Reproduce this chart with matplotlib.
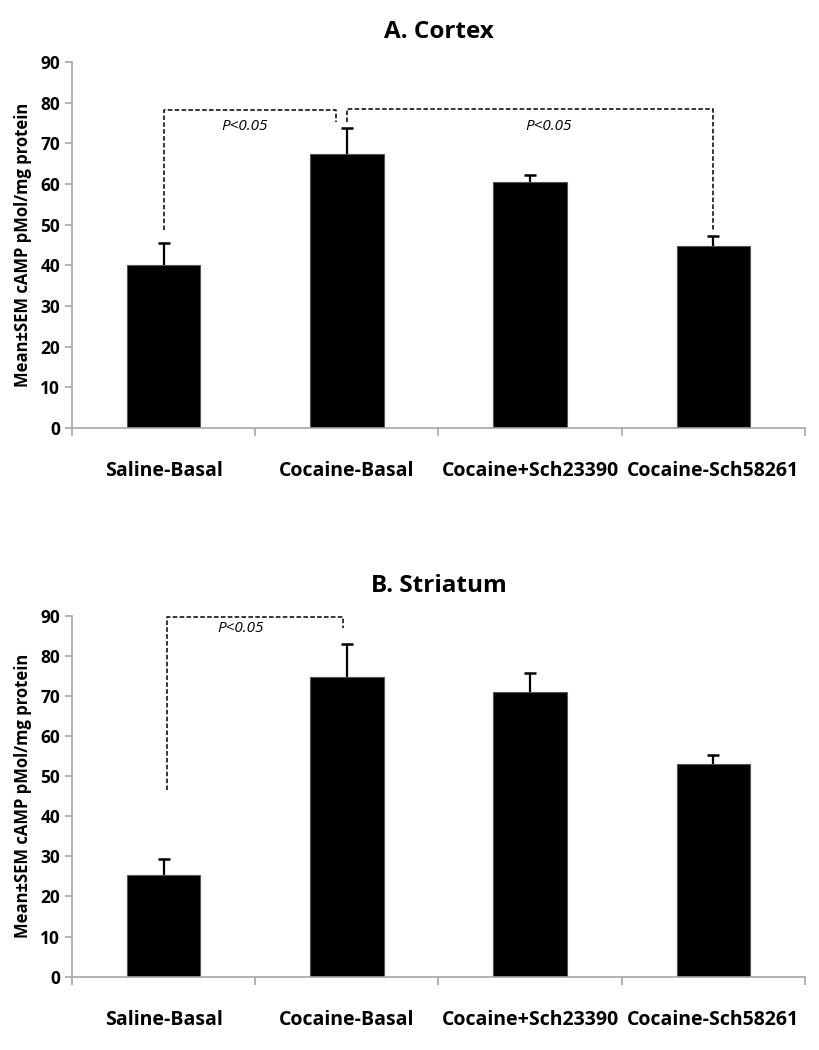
import matplotlib
matplotlib.use('Agg')
import matplotlib.pyplot as plt

groups = ['Saline-Basal', 'Cocaine-Basal', 'Cocaine+Sch23390', 'Cocaine-Sch58261']

cortex_mean = [40.0, 67.4, 60.4, 44.7]
cortex_sem = [5.5, 6.3, 1.9, 2.5]

striatum_mean = [25.4, 74.6, 70.9, 53.0]
striatum_sem = [4.0, 8.4, 4.9, 2.3]

# significance brackets: (x_start, y_start, y_top, x_end, y_end, text_x, text_y)
cortex_brackets = [
    (0.0, 48.6, 78.1, 0.94, 75.2, 0.44, 74.2),
    (1.0, 75.2, 78.4, 3.0, 48.6, 2.1, 74.2),
]
striatum_brackets = [
    (0.02, 46.5, 89.8, 0.98, 86.9, 0.42, 86.9),
]

FONT = 'Open Sans'
GREY = '#a6a6a6'


def draw_panel(ax, means, sems, brackets, title):
    x = range(len(groups))
    ax.bar(x, means, width=0.4, color='black', edgecolor='#555555', linewidth=0.8, zorder=2)
    eb = ax.errorbar(x, means, yerr=[[0] * len(sems), sems], fmt='none', ecolor='black',
                     elinewidth=1.6, capsize=4, capthick=1.8, zorder=3)
    eb[1][0].set_visible(False)  # no lower cap
    for x0, y0, ytop, x1, y1, tx, ty in brackets:
        ax.plot([x0, x0, x1, x1], [y0, ytop, ytop, y1], color='black',
                linestyle=(0, (3, 1.5)), linewidth=1.1, zorder=4)
        ax.text(tx, ty, 'P<0.05', fontsize=11, style='italic', family=FONT,
                ha='center', va='center')
    ax.set_xlim(-0.5, 3.5)
    ax.set_ylim(0, 90)
    ax.set_yticks(range(0, 91, 10))
    ax.set_xticks([-0.5, 0.5, 1.5, 2.5, 3.5])
    ax.set_xticklabels([])
    ax.set_xticks(range(len(groups)), minor=True)
    ax.set_xticklabels(groups, minor=True, fontsize=14, fontweight='bold', family=FONT)
    ax.tick_params(axis='x', which='minor', length=0, pad=24)
    ax.tick_params(axis='x', which='major', length=6, color=GREY, width=1.2)
    ax.tick_params(axis='y', length=5, color=GREY, width=1.2, labelsize=12.5)
    for lab in ax.get_yticklabels():
        lab.set_fontweight('bold')
        lab.set_family(FONT)
    for side in ['top', 'right']:
        ax.spines[side].set_visible(False)
    for side in ['left', 'bottom']:
        ax.spines[side].set_color(GREY)
        ax.spines[side].set_linewidth(1.2)
    ax.set_ylabel('Mean±SEM cAMP pMol/mg protein', fontsize=12, fontweight='bold',
                  family=FONT, labelpad=6)
    ax.set_title(title, fontsize=17.5, fontweight='bold', family=FONT, pad=17)


fig = plt.figure(figsize=(8.19, 10.5), dpi=100)
ax1 = fig.add_axes([0.0879, 0.5924, 0.895, 0.3486])
ax2 = fig.add_axes([0.0879, 0.0698, 0.895, 0.3438])

draw_panel(ax1, cortex_mean, cortex_sem, cortex_brackets, 'A. Cortex')
draw_panel(ax2, striatum_mean, striatum_sem, striatum_brackets, 'B. Striatum')

fig.savefig('out.png', dpi=100)
